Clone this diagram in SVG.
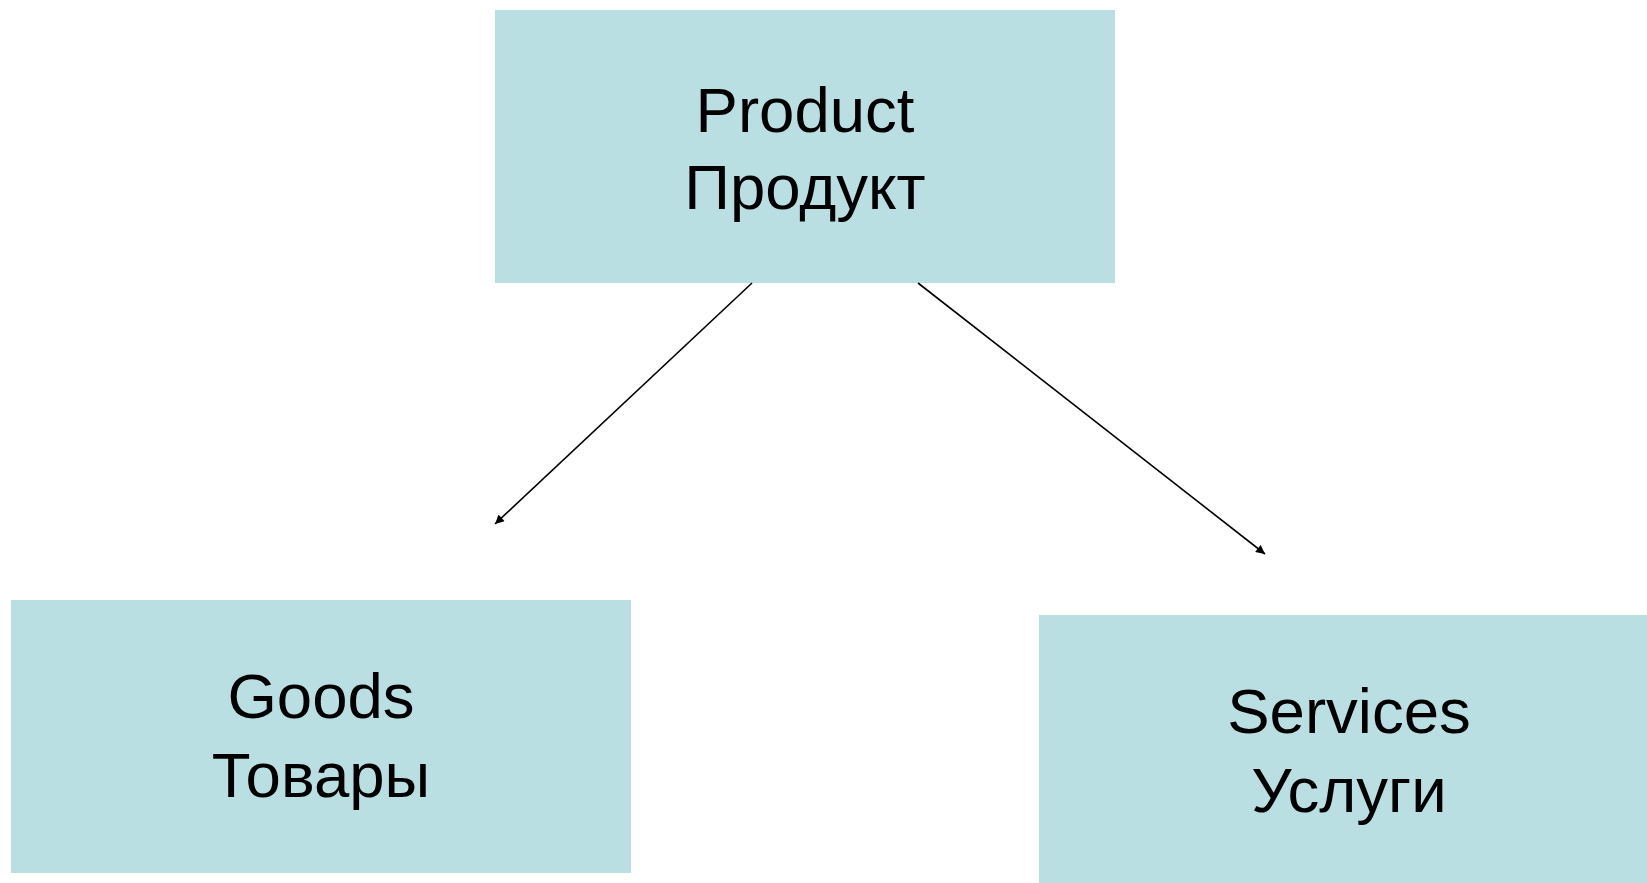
<svg xmlns="http://www.w3.org/2000/svg" width="1647" height="883" viewBox="0 0 1647 883">
<style>
.box{fill:#B9DFE3;}
.lbl{font-family:"Liberation Sans",Arial,sans-serif;font-size:63.5px;fill:#000;text-anchor:middle;}
.conn{stroke:#000;stroke-width:1.6;fill:none;marker-end:url(#arr);}
</style>
<defs>
<marker id="arr" viewBox="0 0 10 10" refX="10" refY="5" markerWidth="10" markerHeight="9" markerUnits="userSpaceOnUse" orient="auto"><path d="M0,0 L10,5 L0,10 z" fill="#000"/></marker>
</defs>
<rect width="1647" height="883" fill="#fff"/>
<g id="product">
<rect class="box" x="495" y="10" width="620" height="273"/>
<text class="lbl" x="805" y="132">Product</text>
<text class="lbl" x="805" y="209">Продукт</text>
</g>
<g id="goods">
<rect class="box" x="11" y="600" width="620" height="273"/>
<text class="lbl" x="321" y="718">Goods</text>
<text class="lbl" x="321" y="797">Товары</text>
</g>
<g id="services">
<rect class="box" x="1039" y="615" width="620" height="273"/>
<text class="lbl" x="1349" y="733">Services</text>
<text class="lbl" x="1349" y="812">Услуги</text>
</g>
<g id="connectors">
<line class="conn" x1="752" y1="283" x2="495" y2="524"/>
<line class="conn" x1="918" y1="283" x2="1265" y2="554"/>
</g>
</svg>
